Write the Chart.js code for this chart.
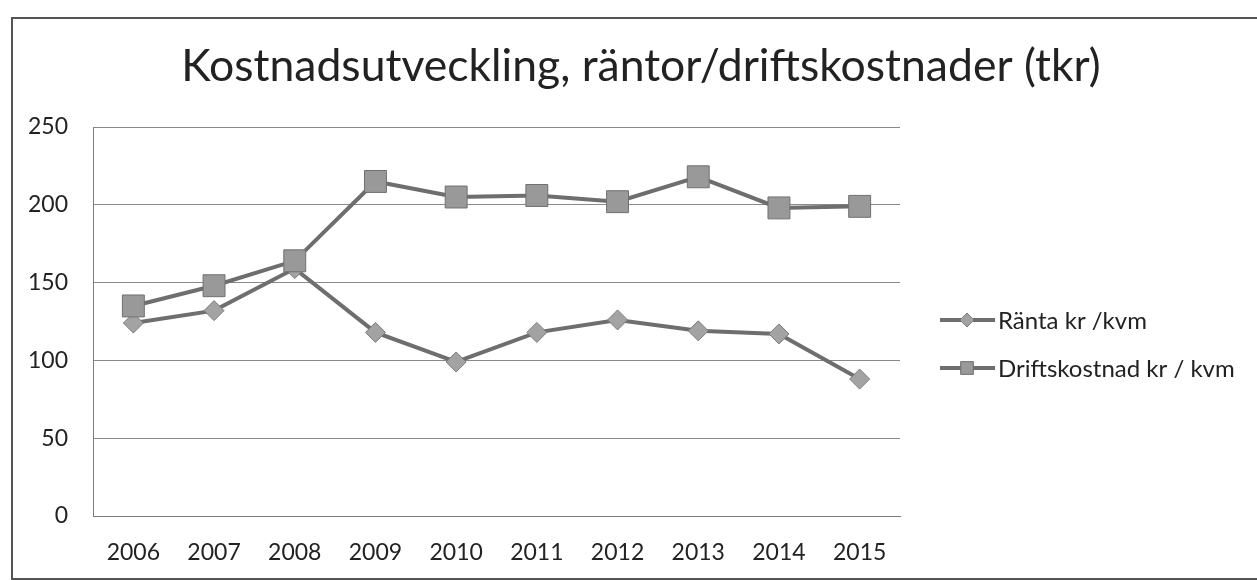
<!DOCTYPE html>
<html>
<head>
<meta charset="utf-8">
<script src="https://cdn.jsdelivr.net/npm/chart.js@4"></script>
<style>
  html, body { margin:0; padding:0; background:#fff; overflow:hidden; }
  #wrap { position:relative; width:1257px; height:580px; }
  #frame { position:absolute; left:11px; top:17px; width:1300px; height:559px; border:2px solid #555; border-right:none; }
  canvas { position:absolute; left:0; top:0; }
</style>
</head>
<body>
<div id="wrap">
  <div id="frame"></div>
  <canvas id="c" width="1257" height="580"></canvas>
</div>
<script>
// ============ data ============
const YEARS = ['2006','2007','2008','2009','2010','2011','2012','2013','2014','2015'];
const RANTA = [124, 132, 159, 118, 99, 118, 126, 119, 117, 88];
const DRIFT = [135, 148, 164, 215, 205, 206, 202, 218, 198, 199];
const Y_TICKS = [0, 50, 100, 150, 200, 250];
const TITLE = 'Kostnadsutveckling, räntor/driftskostnader (tkr)';
const LABELS = ['Ränta kr /kvm', 'Driftskostnad kr / kvm'];

const FONT = 'Lato, "Open Sans", sans-serif';
const TXT = '#222';

// title + legend drawn by hand, so the plot area stays where the original has it
const decor = {
  id: 'decor',
  afterDraw(chart) {
    const ctx = chart.ctx;
    ctx.save();
    ctx.fillStyle = TXT;
    ctx.font = '44.5px ' + FONT;
    ctx.textAlign = 'center';
    ctx.textBaseline = 'alphabetic';
    ctx.fillText(TITLE, 641, 81);

    ctx.font = '24px ' + FONT;
    ctx.textAlign = 'left';
    ctx.textBaseline = 'middle';
    chart.data.datasets.forEach((ds, i) => {
      const y = 320 + i * 48;
      ctx.strokeStyle = ds.borderColor;
      ctx.lineWidth = 4;
      ctx.beginPath(); ctx.moveTo(940, y); ctx.lineTo(995, y); ctx.stroke();
      ctx.fillStyle = ds.pointBackgroundColor;
      ctx.strokeStyle = ds.pointBorderColor;
      ctx.lineWidth = 1;
      Chart.helpers.drawPoint(ctx, {pointStyle: ds.pointStyle, radius: i === 0 ? 7 : 9, rotation: 0, borderWidth: 1}, 967, y);
      ctx.fillStyle = TXT;
      ctx.fillText(ds.label, 998, y + 1);
    });
    ctx.restore();
  }
};

new Chart(document.getElementById('c'), {
  type: 'line',
  data: {
    labels: YEARS,
    datasets: [
      {label: LABELS[0], data: RANTA, order:1, borderColor:'#6e6e6e', borderWidth:4, pointStyle:'rectRot', pointRadius:10,
       pointBackgroundColor:'#a3a3a3', pointBorderColor:'#7a7a7a', pointBorderWidth:1, tension:0},
      {label: LABELS[1], data: DRIFT, order:0, borderColor:'#6e6e6e', borderWidth:4, pointStyle:'rect', pointRadius:15.5,
       pointBackgroundColor:'#999', pointBorderColor:'#707070', pointBorderWidth:1, tension:0}
    ]
  },
  options: {
    responsive:false, animation:false, devicePixelRatio:1,
    layout: {padding: {left:0, top:127, right:357, bottom:0}},
    plugins: {legend:{display:false}, title:{display:false}, tooltip:{enabled:false}},
    scales: {
      x: {
        offset:true,
        grid:{display:false, drawTicks:false},
        border:{color:'#7c7c7c', width:1},
        ticks:{color:TXT, font:{family:FONT, size:23}, padding:23, maxRotation:0},
        afterFit: s => { s.height = 64; }
      },
      y: {
        min:0, max:250,
        afterBuildTicks: s => { s.ticks = Y_TICKS.map(v => ({value:v})); },
        grid:{color:'#8a8a8a', lineWidth:1, drawTicks:false},
        border:{color:'#7c7c7c', width:1},
        ticks:{color:TXT, font:{family:FONT, size:23}, padding:25},
        afterFit: s => { s.width = 93; }
      }
    }
  },
  plugins: [decor]
});
</script>
</body>
</html>
